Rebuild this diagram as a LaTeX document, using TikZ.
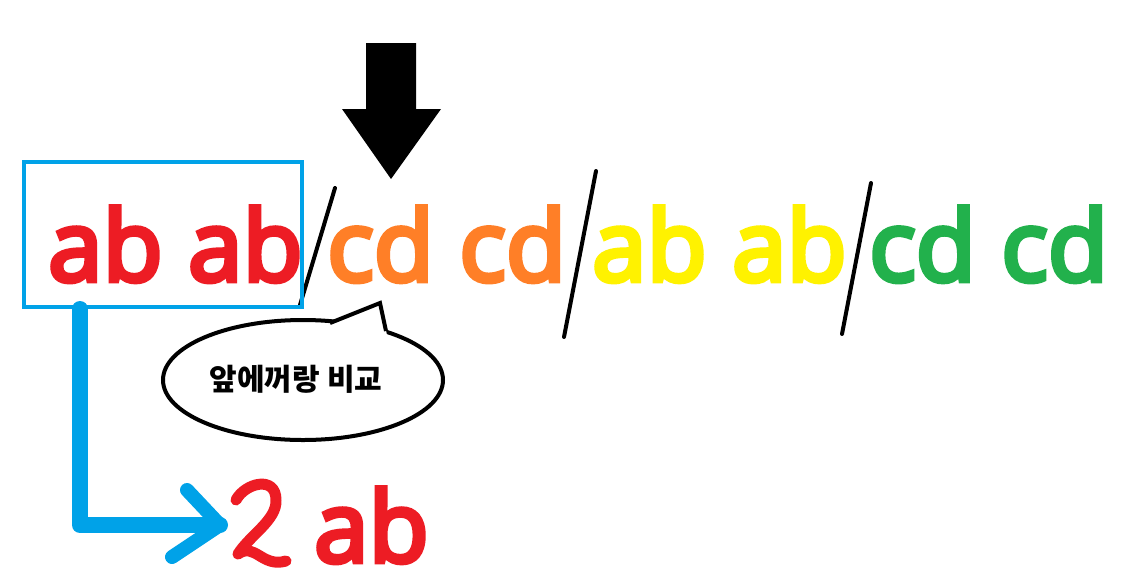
\documentclass[tikz,border=0pt]{standalone}
\usepackage{fontspec}
\setmainfont{Open Sans}
\newfontfamily\bigf{Open Sans}[FakeBold=5]
\newfontfamily\kor{Noto Sans CJK KR}
\definecolor{pred}{HTML}{ED1C24}
\definecolor{porange}{HTML}{FF7F27}
\definecolor{pyellow}{HTML}{FFF200}
\definecolor{pgreen}{HTML}{22B14C}
\definecolor{pblue}{HTML}{00A2E8}
\tikzset{
  bigtext/.style={anchor=base west, inner sep=0pt, font=\bigf\fontsize{98}{100}\selectfont},
  slash/.style={line width=4, line cap=round},
}
\begin{document}
\begin{tikzpicture}[x=1pt,y=-1pt]
\useasboundingbox[fill=white] (0,0) rectangle (1123,587);
% big down arrow
\fill (366,43) -- (416,43) -- (416,109) -- (441,109) -- (391,179) -- (342,109) -- (366,109) -- cycle;
% texts
\node[bigtext, text=pred] (t1) at (48,281) {ab ab};
\node[bigtext, text=porange] (t2) at (327,281) {cd cd};
\node[bigtext, text=pyellow] (t3) at (592,281) {ab ab};
\node[bigtext, text=pgreen] (t4) at (869,281) {cd cd};
% slashes
\draw[slash] (335,188) -- (300,305);
\draw[slash] (596,171) -- (564,337);
\draw[slash] (871,183) -- (842,334);
% blue box
\node[draw=pblue, line width=4, minimum width=278, minimum height=145, inner sep=0pt] (box) at (163,234.5) {};
% speech bubble
\draw[line width=4, fill=white] (303,380) ellipse [x radius=140, y radius=60];
\fill[white] (330,325) -- (380,303) -- (387,335) -- cycle;
\draw[line width=4, line join=miter] (330,323) -- (380,303) -- (386,331);
\node[font=\kor\fontsize{30}{32}\selectfont\bfseries] (bubble) at (296,379) {앞에꺼랑 비교};
% blue L arrow
\coordinate (tip) at (220,525);
\draw[pblue, line width=16, line cap=round, line join=round] (box.south -| 80,0) |- (tip);
\draw[pblue, line width=14, line cap=round, line join=round] (187,490) -- (tip) -- (172,557);
% handwritten 2
\draw[pred, line width=11, line cap=round, line join=round]
  (236,500) .. controls (245,483) and (276,475) .. (276,500)
  .. controls (277,520) and (250,535) .. (238,554)
  .. controls (255,542) and (262,568) .. (286,561);
\node[bigtext, text=pred] (ab) at (314,562) {ab};
\end{tikzpicture}
\end{document}
